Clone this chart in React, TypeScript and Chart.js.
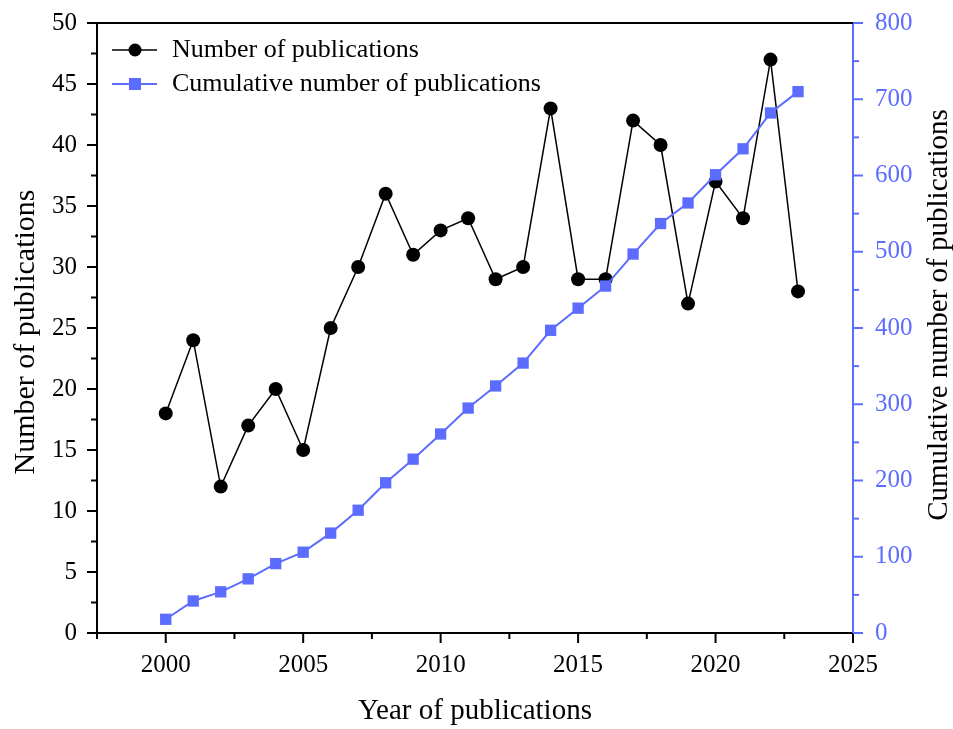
import React, { useEffect, useRef } from 'react';
import { Chart, registerables } from 'chart.js';

Chart.register(...registerables);

const years = [2000, 2001, 2002, 2003, 2004, 2005, 2006, 2007, 2008, 2009, 2010, 2011, 2012, 2013, 2014, 2015, 2016, 2017, 2018, 2019, 2020, 2021, 2022, 2023];
const publications = [18, 24, 12, 17, 20, 15, 25, 30, 36, 31, 33, 34, 29, 30, 43, 29, 29, 42, 40, 27, 37, 34, 47, 28];
const cumulative = [18, 42, 54, 71, 91, 106, 131, 161, 197, 228, 261, 295, 324, 354, 397, 426, 455, 497, 537, 564, 601, 635, 682, 710];

const xTicks = [2000, 2005, 2010, 2015, 2020, 2025];
const xMinorTicks = [1997.5, 2002.5, 2007.5, 2012.5, 2017.5, 2022.5];
const leftTicks = [0, 5, 10, 15, 20, 25, 30, 35, 40, 45, 50];
const leftMinorTicks = [2.5, 7.5, 12.5, 17.5, 22.5, 27.5, 32.5, 37.5, 42.5, 47.5];
const rightTicks = [0, 100, 200, 300, 400, 500, 600, 700, 800];
const rightMinorTicks = [50, 150, 250, 350, 450, 550, 650, 750];

const seriesNames = ['Number of publications', 'Cumulative number of publications'];
const xTitle = 'Year of publications';
const leftTitle = 'Number of publications';
const rightTitle = 'Cumulative number of publications';

const BLUE = '#5b6cff';
const BLACK = '#000000';
const FONT = "'Liberation Serif', 'Times New Roman', serif";

const decorPlugin = {
  id: 'decor',
  afterDraw(chart: any) {
    const ctx = chart.ctx;
    const { x, y, y2 } = chart.scales;
    const ca = chart.chartArea;
    ctx.save();
    ctx.lineWidth = 2;
    const line = (x1: number, y1: number, x2: number, y2p: number, color: string) => {
      ctx.strokeStyle = color;
      ctx.beginPath();
      ctx.moveTo(x1, y1);
      ctx.lineTo(x2, y2p);
      ctx.stroke();
    };
    // top frame line
    line(ca.left - 1, ca.top, ca.right + 1, ca.top, BLACK);
    // x ticks
    xTicks.forEach((v) => {
      const p = x.getPixelForValue(v);
      line(p, ca.bottom, p, ca.bottom + 10, BLACK);
    });
    xMinorTicks.forEach((v) => {
      const p = x.getPixelForValue(v);
      line(p, ca.bottom, p, ca.bottom + 6, BLACK);
    });
    // left ticks
    leftTicks.forEach((v) => {
      const p = y.getPixelForValue(v);
      line(ca.left, p, ca.left - 10, p, BLACK);
    });
    leftMinorTicks.forEach((v) => {
      const p = y.getPixelForValue(v);
      line(ca.left, p, ca.left - 6, p, BLACK);
    });
    // right ticks
    rightTicks.forEach((v) => {
      const p = y2.getPixelForValue(v);
      line(ca.right, p, ca.right + 10, p, BLUE);
    });
    rightMinorTicks.forEach((v) => {
      const p = y2.getPixelForValue(v);
      line(ca.right, p, ca.right + 6, p, BLUE);
    });

    // axis titles
    ctx.fillStyle = BLACK;
    ctx.textAlign = 'center';
    ctx.textBaseline = 'middle';
    ctx.font = `29px ${FONT}`;
    ctx.fillText(xTitle, (ca.left + ca.right) / 2, 711);

    ctx.save();
    ctx.font = `30px ${FONT}`;
    ctx.translate(26, 332);
    ctx.rotate(-Math.PI / 2);
    ctx.fillText(leftTitle, 0, 0);
    ctx.restore();

    ctx.save();
    ctx.font = `29px ${FONT}`;
    ctx.translate(939, 315);
    ctx.rotate(-Math.PI / 2);
    ctx.fillText(rightTitle, 0, 0);
    ctx.restore();

    // legend
    const rows = [
      { name: seriesNames[0], color: BLACK, style: 'circle', y: 50, lw: 1.5 },
      { name: seriesNames[1], color: BLUE, style: 'rect', y: 84, lw: 2 },
    ];
    rows.forEach((r) => {
      ctx.lineWidth = r.lw;
      line(112, r.y, 157, r.y, r.color);
      ctx.fillStyle = r.color;
      if (r.style === 'circle') {
        ctx.beginPath();
        ctx.arc(135, r.y, 6.5, 0, Math.PI * 2);
        ctx.fill();
      } else {
        ctx.fillRect(135 - 6, r.y - 6, 12, 12);
      }
      ctx.fillStyle = BLACK;
      ctx.font = `26px ${FONT}`;
      ctx.textAlign = 'left';
      ctx.textBaseline = 'middle';
      ctx.fillText(r.name, 172, r.y);
    });
    ctx.restore();
  },
};

const fitV = (w: number) => (s: any) => {
  s.width = w;
  s.paddingTop = 0;
  s.paddingBottom = 0;
};

export default function App() {
  const ref = useRef<HTMLCanvasElement | null>(null);
  useEffect(() => {
    if (!ref.current) return;
    Chart.defaults.font.family = FONT;
    const chart = new Chart(ref.current, {
      type: 'line',
      data: {
        datasets: [
          {
            label: seriesNames[1],
            data: years.map((yr, i) => ({ x: yr, y: cumulative[i] })),
            yAxisID: 'y2',
            borderColor: BLUE,
            backgroundColor: BLUE,
            borderWidth: 2,
            pointStyle: 'rect',
            pointRadius: 8,
            pointBorderWidth: 0,
            tension: 0,
          },
          {
            label: seriesNames[0],
            data: years.map((yr, i) => ({ x: yr, y: publications[i] })),
            yAxisID: 'y',
            borderColor: BLACK,
            backgroundColor: BLACK,
            borderWidth: 1.5,
            pointStyle: 'circle',
            pointRadius: 7,
            pointBorderWidth: 0,
            tension: 0,
          },
        ],
      },
      options: {
        responsive: false,
        animation: false,
        devicePixelRatio: 1,
        layout: { padding: { top: 23, left: 0, right: 0, bottom: 0 } },
        plugins: { legend: { display: false }, tooltip: { enabled: false } },
        scales: {
          x: {
            type: 'linear',
            position: 'bottom',
            min: 1997.5,
            max: 2025,
            afterBuildTicks: (s: any) => {
              s.ticks = xTicks.map((v) => ({ value: v }));
            },
            afterFit: (s: any) => {
              s.height = 96;
              s.paddingLeft = 0;
              s.paddingRight = 0;
            },
            grid: { display: false, drawTicks: false },
            border: { display: true, color: BLACK, width: 2 },
            ticks: {
              color: BLACK,
              font: { size: 25, family: FONT },
              padding: 17,
              maxRotation: 0,
              autoSkip: false,
              callback: (v: any) => String(v),
            },
          },
          y: {
            type: 'linear',
            position: 'left',
            min: 0,
            max: 50,
            afterBuildTicks: (s: any) => {
              s.ticks = leftTicks.map((v) => ({ value: v }));
            },
            afterFit: fitV(97),
            grid: { display: false, drawTicks: false },
            border: { display: true, color: BLACK, width: 2 },
            ticks: {
              color: BLACK,
              font: { size: 25, family: FONT },
              padding: 20,
              autoSkip: false,
              callback: (v: any) => String(v),
            },
          },
          y2: {
            type: 'linear',
            position: 'right',
            min: 0,
            max: 800,
            afterBuildTicks: (s: any) => {
              s.ticks = rightTicks.map((v) => ({ value: v }));
            },
            afterFit: fitV(100),
            grid: { display: false, drawTicks: false },
            border: { display: true, color: BLUE, width: 2 },
            ticks: {
              color: BLUE,
              font: { size: 25, family: FONT },
              padding: 22,
              autoSkip: false,
              callback: (v: any) => String(v),
            },
          },
        },
      },
      plugins: [decorPlugin],
    } as any);
    return () => chart.destroy();
  }, []);
  return (
    <div style={{ position: 'absolute', left: 0, top: 0, width: 953, height: 729, background: '#fff' }}>
      <canvas ref={ref} width={953} height={729} style={{ display: 'block' }} />
    </div>
  );
}
